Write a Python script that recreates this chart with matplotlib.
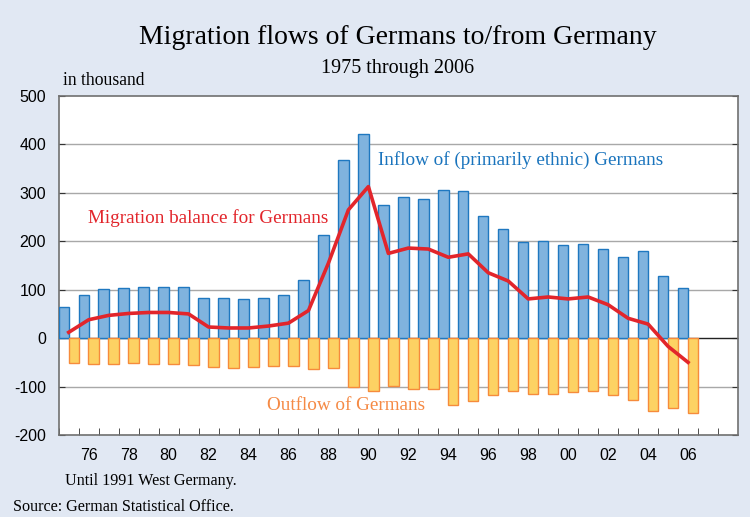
import numpy as np
import matplotlib.pyplot as plt
from matplotlib.ticker import MultipleLocator

# Data (in thousand)
years = list(range(1975, 2007))
inflow = [64, 89, 101, 104, 105, 105, 105, 82, 82, 80, 83, 89,
          120, 214, 367, 421, 274, 291, 288, 306, 304, 252, 226, 199,
          201, 193, 195, 185, 168, 179, 129, 104]
outflow = [-52, -54, -54, -52, -53, -54, -55, -60, -62, -60, -58, -58,
           -64, -61, -101, -109, -98, -105, -105, -138, -130, -118, -109, -116,
           -116, -111, -109, -117, -127, -150, -145, -155]
balance = [12, 38, 47, 51, 53, 53, 50, 23, 21, 21, 25, 31,
           57, 155, 265, 313, 175, 186, 184, 167, 174, 135, 118, 81,
           85, 81, 85, 69, 41, 29, -17, -50]
xlabels = ["76", "78", "80", "82", "84", "86", "88", "90", "92", "94",
           "96", "98", "00", "02", "04", "06"]

plt.rcParams["axes.unicode_minus"] = False

bg = "#e1e8f3"
serif = "Liberation Serif"
sans = "Liberation Sans"

fig = plt.figure(figsize=(7.5, 5.17), dpi=100, facecolor=bg)
ax = fig.add_axes([0.0783, 0.1586, 0.9057, 0.6557])

x = np.array(years)
ax.bar(x + 0.25, inflow, width=0.52, color="#80b3de", edgecolor="#1f78c0",
       linewidth=1.0, zorder=3)
ax.bar(x + 0.75, outflow, width=0.52, color="#fdd263", edgecolor="#f68b3c",
       linewidth=1.0, zorder=3)
ax.plot(x + 0.5, balance, color="#e2252b", linewidth=2.6, zorder=4,
        solid_joinstyle="round")

ax.set_xlim(1975, 2009)
ax.set_ylim(-200, 500)

# grid
for v in [-100, 100, 200, 300, 400]:
    ax.axhline(v, color="#a8a8a8", linewidth=1.0, zorder=1)
ax.axhline(0, color="#222222", linewidth=1.0, zorder=2)

ax.yaxis.set_major_locator(MultipleLocator(100))
ax.tick_params(axis="y", direction="in", length=4, labelsize=11.5,
               colors="#333333", labelcolor="black", right=True, pad=9)
for lab in ax.get_yticklabels():
    lab.set_fontfamily(sans)

ax.set_xticks(np.arange(1975, 2009), minor=True)
ax.set_xticks([int("19" + s) + 0.5 if int(s) > 50 else int("20" + s) + 0.5
               for s in xlabels])
ax.set_xticklabels(xlabels, fontfamily=sans, fontsize=11.5)
ax.tick_params(axis="x", which="major", length=0, pad=9)
ax.tick_params(axis="x", which="minor", direction="in", length=5,
               colors="#333333")

for sp in ax.spines.values():
    sp.set_color("#707070")
    sp.set_linewidth(1.2)

# series labels
ax.text(1991, 368, "Inflow of (primarily ethnic) Germans", color="#1a74bd",
        fontsize=13.8, fontfamily=serif, va="center", ha="left", zorder=5)
ax.text(1976.45, 248, "Migration balance for Germans", color="#e2252b",
        fontsize=13.8, fontfamily=serif, va="center", ha="left", zorder=5)
ax.text(1985.4, -140, "Outflow of Germans", color="#f58a45",
        fontsize=13.8, fontfamily=serif, va="center", ha="left", zorder=5)

# titles and notes
fig.text(0.53, 0.928, "Migration flows of Germans to/from Germany",
         fontsize=20, fontfamily=serif, ha="center", va="center")
fig.text(0.53, 0.868, "1975 through 2006", fontsize=14.5, fontfamily=serif,
         ha="center", va="center")
fig.text(0.084, 0.845, "in thousand", fontsize=12.7, fontfamily=serif,
         ha="left", va="center")
fig.text(0.087, 0.069, "Until 1991 West Germany.", fontsize=11.6,
         fontfamily=serif, ha="left", va="center")
fig.text(0.018, 0.019, "Source: German Statistical Office.", fontsize=11.6,
         fontfamily=serif, ha="left", va="center")

fig.savefig("out.png", dpi=100, facecolor=bg)
